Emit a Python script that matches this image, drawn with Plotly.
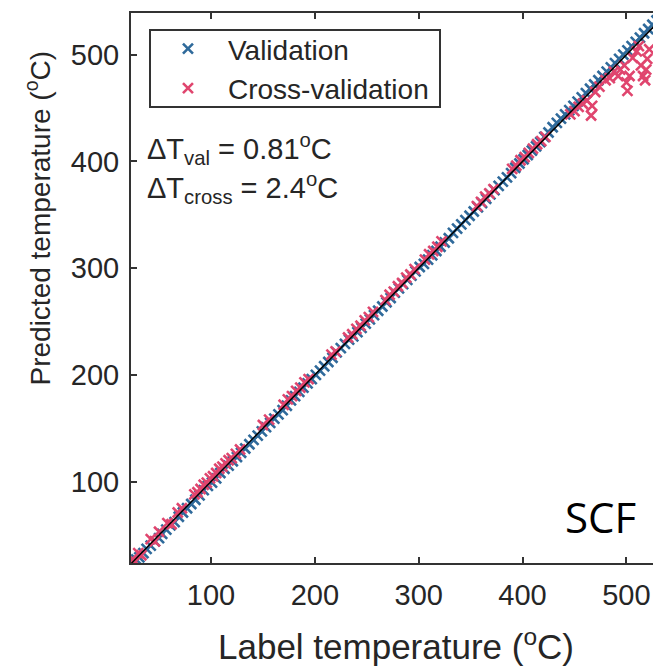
import plotly.graph_objects as go

# ---------------- data ----------------
val_label = [25, 28, 31, 35, 38, 42, 46, 50, 53, 57, 61, 65, 69, 73, 77, 81, 85, 89, 93, 97,
             101, 105, 109, 113, 117, 121, 125, 129, 133, 137, 141, 145, 149, 153, 157, 161, 165, 169, 173, 177,
             181, 185, 189, 193, 197, 201, 205, 209, 213, 217, 221, 225, 229, 233, 237, 241, 245, 249, 253, 257,
             261, 265, 269, 273, 277, 281, 285, 289, 293, 297, 301, 305, 309, 313, 317, 321, 325, 329, 333, 337,
             341, 345, 349, 353, 357, 361, 365, 369, 373, 377, 381, 385, 389, 393, 397, 401, 405, 409, 413, 417,
             421, 425, 429, 433, 437, 441, 445, 449, 453, 457, 461, 465, 469, 473, 477, 481, 485, 489, 493, 497,
             501, 505, 509, 513, 517, 521, 525, 529, 532, 535]
val_pred = [24, 27, 29, 33, 37, 40, 44, 47, 51, 55, 59, 62, 67, 71, 75, 79, 83, 87, 92, 96,
            99, 103, 108, 112, 115, 119, 123, 127, 131, 135, 139, 143, 147, 151, 155, 159, 163, 167, 171, 176,
            180, 184, 188, 192, 196, 200, 204, 208, 212, 216, 221, 225, 229, 233, 236, 240, 244, 248, 252, 256,
            260, 264, 268, 272, 277, 281, 285, 289, 293, 297, 301, 304, 308, 312, 316, 320, 324, 328, 333, 337,
            341, 345, 349, 353, 357, 361, 365, 369, 373, 377, 381, 385, 389, 394, 398, 402, 406, 410, 414, 418,
            423, 427, 432, 436, 440, 444, 448, 452, 456, 460, 464, 468, 472, 476, 480, 484, 488, 492, 496, 500,
            504, 508, 512, 516, 520, 524, 528, 532, 535, 538]

cross_label = [24, 27, 30, 33,
               42, 46, 50, 58, 62, 68, 72,
               84, 87, 90, 93, 96, 99, 102, 105, 108, 111, 114, 117, 120, 124, 128,
               150, 156,
               170, 174, 178, 182, 186, 190, 194,
               216, 220,
               232, 236, 240, 244, 248, 252, 256,
               268, 272, 276, 280, 284, 288, 292, 296,
               306, 310, 314, 318, 322,
               356, 360, 364, 368, 372,
               390, 394, 398, 402, 406, 410, 414, 418, 422,
               446, 450, 454, 458, 462, 466, 467, 470, 474,
               480, 484, 488, 492, 494, 498, 501, 500, 503, 506, 510, 512, 514, 516, 518, 519, 520, 522]
cross_pred = [26, 25, 33, 31,
              46, 44, 53, 61, 60, 71, 75,
              88, 90, 93, 97, 99, 103, 105, 108, 112, 114, 117, 120, 122, 126, 130,
              153, 158,
              172, 177, 180, 185, 188, 193, 196,
              219, 222,
              235, 238, 243, 246, 251, 254, 259,
              270, 275, 278, 283, 286, 291, 294, 299,
              308, 313, 316, 320, 325,
              358, 362, 367, 370, 374,
              393, 396, 401, 404, 408, 412, 416, 419, 423,
              444, 447, 451, 454, 457, 443, 452, 465, 470,
              476, 478, 484, 480, 486, 490, 466, 474, 480, 497, 503, 508, 490, 480, 476, 486, 496, 505]

line_x = [20, 540]
line_y = [20, 540]

x_ticks = [100, 200, 300, 400, 500]
y_ticks = [100, 200, 300, 400, 500]

# ---------------- styling ----------------
BLUE = "#2f6a9b"
PINK = "#e0456e"
TXT = "#262626"
FONT = "Liberation Sans, Arial, sans-serif"

fig = go.Figure()
fig.add_trace(go.Scatter(x=val_label, y=val_pred, mode="markers", name="Validation",
                         marker=dict(symbol="x-thin", size=10, color=BLUE,
                                     line=dict(width=2.6, color=BLUE))))
fig.add_trace(go.Scatter(x=cross_label, y=cross_pred, mode="markers", name="Cross-validation",
                         marker=dict(symbol="x-thin", size=10, color=PINK,
                                     line=dict(width=2.6, color=PINK))))
fig.add_trace(go.Scatter(x=line_x, y=line_y, mode="lines", showlegend=False,
                         line=dict(color="black", width=1.5)))

fig.update_layout(
    width=653, height=663,
    margin=dict(l=123, r=0, t=5, b=108),
    paper_bgcolor="white", plot_bgcolor="white",
    font=dict(family=FONT, color=TXT),
    legend=dict(x=0.032, y=0.98, xanchor="left", yanchor="top",
                bgcolor="rgba(0,0,0,0)", borderwidth=0,
                font=dict(size=28, family=FONT, color=TXT),
                itemwidth=70, tracegroupgap=0),
    shapes=[
        dict(type="rect", xref="paper", yref="paper",
             x0=(150 - 131) / 530, x1=(440 - 131) / 530,
             y0=(563 - 107) / 550, y1=(563 - 30) / 550,
             fillcolor="white", line=dict(color="#333333", width=2), layer="above"),
    ],
    annotations=[
        dict(text="ΔT<sub>val</sub> = 0.81<sup>o</sup>C", x=0.026, y=0.752, xref="paper", yref="paper",
             xanchor="left", yanchor="middle", showarrow=False,
             font=dict(size=29, family=FONT, color=TXT)),
        dict(text="ΔT<sub>cross</sub> = 2.4<sup>o</sup>C", x=0.026, y=0.681, xref="paper", yref="paper",
             xanchor="left", yanchor="middle", showarrow=False,
             font=dict(size=29, family=FONT, color=TXT)),
        dict(text="SCF", x=0.885, y=0.085, xref="paper", yref="paper",
             xanchor="center", yanchor="middle", showarrow=False,
             font=dict(size=42, family="Open Sans, sans-serif", color="black")),
        dict(text="Predicted temperature (<sup>o</sup>C)", x=-0.1736, y=0.32, xref="paper", yref="paper",
             xanchor="center", yanchor="bottom", textangle=-90, showarrow=False,
             font=dict(size=28, family=FONT, color=TXT)),
    ],
)

fig.update_xaxes(range=[23, 533.3], tickvals=x_ticks, ticks="inside", ticklen=6, tickwidth=2,
                 tickcolor="#333333", showline=True, linecolor="#333333", linewidth=2,
                 mirror="ticks", showgrid=False, zeroline=False, ticklabelstandoff=5,
                 tickfont=dict(size=29, family=FONT, color=TXT),
                 title=dict(text="Label temperature (<sup>o</sup>C)", font=dict(size=35, family=FONT, color=TXT),
                            standoff=25))
fig.update_yaxes(range=[23.7, 539], tickvals=y_ticks, ticks="inside", ticklen=6, tickwidth=2,
                 tickcolor="#333333", showline=True, linecolor="#333333", linewidth=2,
                 mirror=False, showgrid=False, zeroline=False, ticklabelstandoff=4,
                 tickfont=dict(size=29, family=FONT, color=TXT))

fig.write_html("out.html")
